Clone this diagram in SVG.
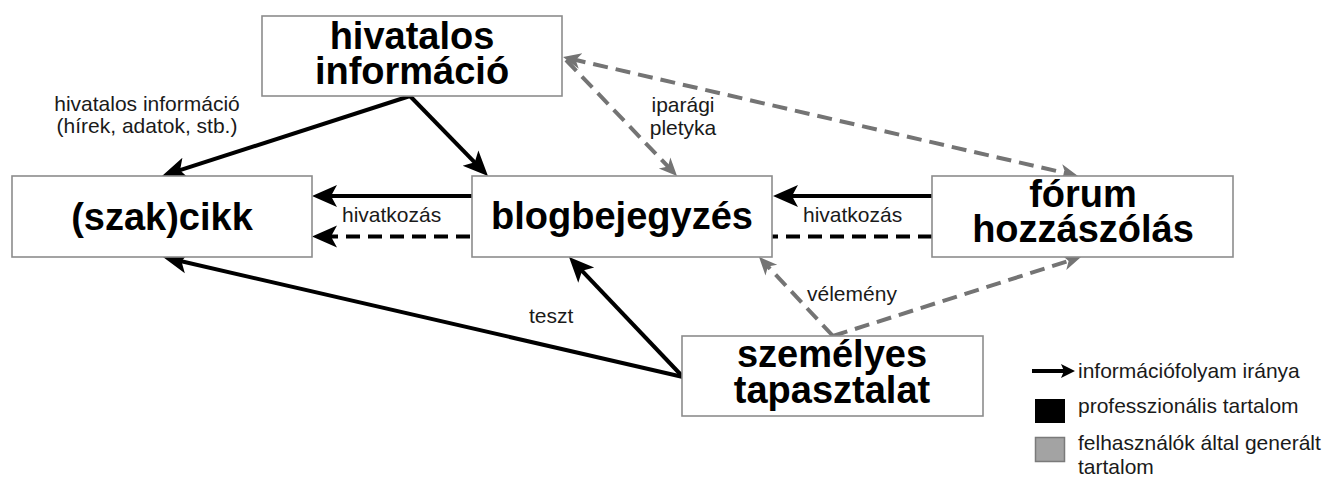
<svg xmlns="http://www.w3.org/2000/svg" width="1324" height="480" viewBox="0 0 1324 480">
<style>
.box{fill:#fff;stroke:#8c8c8c;stroke-width:1.6}
.big{font-family:"Liberation Sans",Arial,sans-serif;font-weight:bold;font-size:38px;fill:#000;text-anchor:middle}
.lbl{font-family:"Liberation Sans",Arial,sans-serif;font-size:21px;fill:#1a1a1a}
.mid{text-anchor:middle}
.blk{stroke:#000;stroke-width:4;fill:none}
.blkd{stroke:#000;stroke-width:4;fill:none;stroke-dasharray:14 8}
.gry{stroke:#747474;stroke-width:4;fill:none;stroke-dasharray:15 8}
</style>
<defs>
<marker id="ab" viewBox="0 -15 30 30" markerWidth="30" markerHeight="30" refX="15" refY="0" orient="auto" markerUnits="userSpaceOnUse">
<path d="M0,-11 L25,0 L0,11 L6,0 Z" fill="#000"/>
</marker>
<marker id="ag" viewBox="0 -10 20 20" markerWidth="20" markerHeight="20" refX="10" refY="0" orient="auto-start-reverse" markerUnits="userSpaceOnUse">
<path d="M0,-8 L18,0 L0,8 L5,0 Z" fill="#747474"/>
</marker>
</defs>
<rect width="1324" height="480" fill="#fff"/>
<g id="connectors">
<line class="blk" x1="410" y1="96" x2="171.5" y2="172.9" marker-end="url(#ab)"/>
<line class="blk" x1="410" y1="96" x2="481" y2="168.8" marker-end="url(#ab)"/>
<line class="blk" x1="472" y1="196" x2="322" y2="196" marker-end="url(#ab)"/>
<line class="blkd" x1="932" y1="236.5" x2="322" y2="236.5" marker-end="url(#ab)"/>
<line class="blk" x1="932" y1="196" x2="783" y2="196" marker-end="url(#ab)"/>
<line class="gry" x1="570.8" y1="58.8" x2="1070.2" y2="174.2" marker-start="url(#ag)" marker-end="url(#ag)"/>
<line class="gry" x1="566" y1="60" x2="671.5" y2="170.2" marker-end="url(#ag)"/>
<line class="blk" x1="683" y1="377" x2="172.7" y2="259.2" marker-end="url(#ab)"/>
<line class="blk" x1="683" y1="377" x2="575.9" y2="264.3" marker-end="url(#ab)"/>
<line class="gry" x1="833" y1="336" x2="764.5" y2="262.8" marker-end="url(#ag)"/>
<line class="gry" x1="833" y1="336" x2="1073.4" y2="259.4" marker-end="url(#ag)"/>
<text class="lbl mid" x="147" y="111">hivatalos információ<tspan x="147" y="133">(hírek, adatok, stb.)</tspan></text>
<text class="lbl mid" x="683" y="112">iparági<tspan x="683" y="135">pletyka</tspan></text>
<text class="lbl" x="342" y="222">hivatkozás</text>
<text class="lbl" x="803" y="222">hivatkozás</text>
<text class="lbl" x="807" y="301">vélemény</text>
<text class="lbl" x="529" y="323">teszt</text>
</g>
<g id="node-hivatalos">
<rect class="box" x="262" y="16" width="300" height="80"/>
<text class="big" x="412" y="49">hivatalos<tspan x="412" y="84">információ</tspan></text>
</g>
<g id="node-szakcikk">
<rect class="box" x="12" y="176" width="300" height="81"/>
<text class="big" x="162" y="230">(szak)cikk</text>
</g>
<g id="node-blog">
<rect class="box" x="472" y="176" width="300" height="81"/>
<text class="big" x="622" y="229">blogbejegyzés</text>
</g>
<g id="node-forum">
<rect class="box" x="932" y="176" width="301" height="81"/>
<text class="big" x="1083" y="207">fórum<tspan x="1083" y="242">hozzászólás</tspan></text>
</g>
<g id="node-szemelyes">
<rect class="box" x="682" y="336" width="301" height="80"/>
<text class="big" x="832" y="367">személyes<tspan x="832" y="403">tapasztalat</tspan></text>
</g>
<g id="legend">
<line x1="1032" y1="371" x2="1064" y2="371" stroke="#000" stroke-width="4"/>
<path d="M1061,364 L1075,371 L1061,378 L1064,371 Z" fill="#000"/>
<text class="lbl" x="1078" y="378">információfolyam iránya</text>
<rect x="1035" y="399" width="30" height="24" fill="#000"/>
<text class="lbl" x="1078" y="413">professzionális tartalom</text>
<rect x="1035.5" y="437.5" width="29" height="24" fill="#a3a3a3" stroke="#7a7a7a" stroke-width="1.5"/>
<text class="lbl" x="1078" y="450">felhasználók által generált<tspan x="1078" y="474">tartalom</tspan></text>
</g>
</svg>
